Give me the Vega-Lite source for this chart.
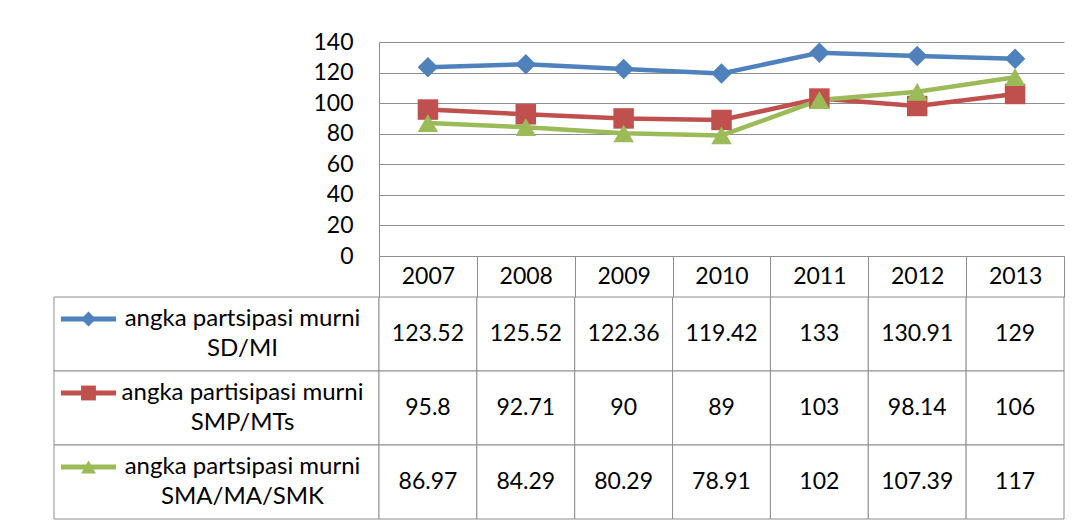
{
  "$schema": "https://vega.github.io/schema/vega-lite/v6.json",
  "background": "white",
  "padding": {"left": 53, "top": 31, "right": 5, "bottom": 2},
  "config": {"view": {"stroke": null}, "font": "Lato", "text": {"font": "Lato"}},
  "datasets": {
    "series": [
      {"key": "SD", "label": "angka partsipasi murni\nSD/MI"},
      {"key": "SMP", "label": "angka partisipasi murni\nSMP/MTs"},
      {"key": "SMA", "label": "angka partsipasi murni\nSMA/MA/SMK"}
    ],
    "vals": [
      {"key": "SD", "year": "2007", "value": 123.52},
      {"key": "SD", "year": "2008", "value": 125.52},
      {"key": "SD", "year": "2009", "value": 122.36},
      {"key": "SD", "year": "2010", "value": 119.42},
      {"key": "SD", "year": "2011", "value": 133},
      {"key": "SD", "year": "2012", "value": 130.91},
      {"key": "SD", "year": "2013", "value": 129},
      {"key": "SMP", "year": "2007", "value": 95.8},
      {"key": "SMP", "year": "2008", "value": 92.71},
      {"key": "SMP", "year": "2009", "value": 90},
      {"key": "SMP", "year": "2010", "value": 89},
      {"key": "SMP", "year": "2011", "value": 103},
      {"key": "SMP", "year": "2012", "value": 98.14},
      {"key": "SMP", "year": "2013", "value": 106},
      {"key": "SMA", "year": "2007", "value": 86.97},
      {"key": "SMA", "year": "2008", "value": 84.29},
      {"key": "SMA", "year": "2009", "value": 80.29},
      {"key": "SMA", "year": "2010", "value": 78.91},
      {"key": "SMA", "year": "2011", "value": 102},
      {"key": "SMA", "year": "2012", "value": 107.39},
      {"key": "SMA", "year": "2013", "value": 117}
    ]
  },
  "columns": 2,
  "align": "each",
  "bounds": "flush",
  "spacing": {"row": 41, "column": 0},
  "concat": [
    {
      "width": 325,
      "height": 214,
      "data": {"values": [{"a": 1}]},
      "mark": {"type": "text", "text": ""},
      "encoding": {}
    },
    {
      "width": 685,
      "height": 214,
      "data": {"name": "vals"},
      "encoding": {
        "x": {
          "field": "year", "type": "ordinal",
          "scale": {"type": "band", "paddingInner": 0, "paddingOuter": 0},
          "axis": {"title": null, "labelAngle": 0, "tickBand": "extent", "tickSize": 41, "tickColor": "#8e8e8e", "domainColor": "#8e8e8e", "labelPadding": -21, "labelBaseline": "middle", "labelFontSize": 23, "labelColor": "black", "labelFont": "Lato"}
        },
        "y": {
          "field": "value", "type": "quantitative",
          "scale": {"domain": [0, 140], "nice": false},
          "axis": {"title": null, "values": [0, 20, 40, 60, 80, 100, 120, 140], "grid": true, "gridColor": "#8e8e8e", "ticks": false, "domainColor": "#8e8e8e", "labelPadding": 26, "labelFontSize": 23, "labelColor": "black", "labelFont": "Lato"}
        },
        "color": {"field": "key", "type": "nominal", "scale": {"domain": ["SD", "SMP", "SMA"], "range": ["#4F81BD", "#C0504D", "#9BBB59"]}, "legend": null}
      },
      "layer": [
        {"mark": {"type": "line", "strokeWidth": 4.5}},
        {
          "mark": {"type": "point", "filled": true, "opacity": 1, "size": 420},
          "encoding": {"shape": {"field": "key", "type": "nominal", "scale": {"domain": ["SD", "SMP", "SMA"], "range": ["diamond", "square", "triangle-up"]}, "legend": null}}
        }
      ]
    },
    {
      "width": 325,
      "height": 222,
      "data": {"name": "series"},
      "encoding": {
        "y": {"field": "key", "type": "nominal", "scale": {"domain": ["SD", "SMP", "SMA"], "paddingInner": 0, "paddingOuter": 0}, "axis": null}
      },
      "layer": [
        {"mark": {"type": "rect", "fill": "white", "stroke": "#8e8e8e", "strokeWidth": 1}},
        {
          "mark": {"type": "text", "fontSize": 24, "lineBreak": "\n", "lineHeight": 30, "dx": 26, "dy": -15, "align": "center", "baseline": "middle", "color": "black"},
          "encoding": {"text": {"field": "label"}}
        },
        {
          "mark": {"type": "point", "filled": true, "opacity": 1, "shape": "M-1,-0.09H1V0.09H-1Z", "size": 3025, "xOffset": -128, "yOffset": -15},
          "encoding": {"color": {"field": "key", "type": "nominal", "scale": {"domain": ["SD", "SMP", "SMA"], "range": ["#4F81BD", "#C0504D", "#9BBB59"]}, "legend": null}}
        },
        {
          "mark": {"type": "point", "filled": true, "opacity": 1, "size": 220, "xOffset": -128, "yOffset": -15},
          "encoding": {
            "color": {"field": "key", "type": "nominal", "scale": {"domain": ["SD", "SMP", "SMA"], "range": ["#4F81BD", "#C0504D", "#9BBB59"]}, "legend": null},
            "shape": {"field": "key", "type": "nominal", "scale": {"domain": ["SD", "SMP", "SMA"], "range": ["diamond", "square", "triangle-up"]}, "legend": null}
          }
        }
      ]
    },
    {
      "width": 685,
      "height": 222,
      "data": {"name": "vals"},
      "encoding": {
        "x": {"field": "year", "type": "ordinal", "scale": {"type": "band", "paddingInner": 0, "paddingOuter": 0}, "axis": null},
        "y": {"field": "key", "type": "nominal", "scale": {"domain": ["SD", "SMP", "SMA"], "paddingInner": 0, "paddingOuter": 0}, "axis": null}
      },
      "layer": [
        {"mark": {"type": "rect", "fill": "white", "stroke": "#8e8e8e", "strokeWidth": 1}},
        {
          "mark": {"type": "text", "fontSize": 23, "align": "center", "baseline": "middle", "color": "black"},
          "encoding": {"text": {"field": "value", "type": "quantitative"}}
        }
      ]
    }
  ]
}
